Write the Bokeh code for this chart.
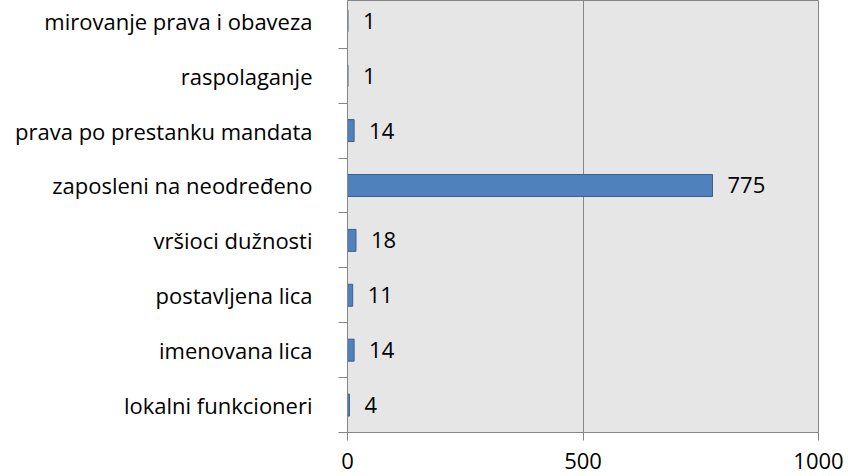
from bokeh.plotting import figure
from bokeh.models import ColumnDataSource, Range1d, FixedTicker
from bokeh.core.properties import value
from bokeh.embed import file_html
from bokeh.resources import INLINE

categories = ["lokalni funkcioneri", "imenovana lica", "postavljena lica", "vršioci dužnosti",
              "zaposleni na neodređeno", "prava po prestanku mandata", "raspolaganje",
              "mirovanje prava i obaveza"]
counts = [4, 14, 11, 18, 775, 14, 1, 1]
x_ticks = [0, 500, 1000]

FONT = "Open Sans"
FS = "22px"
GRAY = "#868686"

pos = list(range(len(categories)))
src = ColumnDataSource(dict(y=pos, v=counts, lab=[str(c) for c in counts]))

p = figure(width=848, height=476, output_backend="svg", toolbar_location=None,
           x_range=Range1d(0, 1000), y_range=Range1d(-0.5, 7.37),
           min_border_left=347, min_border_right=30, min_border_top=0, min_border_bottom=44)
p.background_fill_color = "#e6e6e6"
p.border_fill_color = "white"
p.outline_line_color = GRAY
p.outline_line_width = 1

p.hbar(y="y", right="v", left=0, height=0.4, source=src,
       fill_color="#4f81bd", line_color="#3a5f8b", line_width=1)
p.text(x="v", y="y", text="lab", source=src, x_offset=15,
       text_baseline="middle", text_align="left",
       text_font=value(FONT), text_font_size=FS, text_color="black")

# y axis
yax = p.yaxis[0]
yax.ticker = FixedTicker(ticks=pos, minor_ticks=[i - 0.5 for i in pos])
yax.major_label_overrides = {i: c for i, c in zip(pos, categories)}
yax.major_tick_out = 0
yax.major_tick_in = 0
yax.minor_tick_out = 9
yax.minor_tick_in = 0
yax.minor_tick_line_color = GRAY
yax.axis_line_color = GRAY
yax.major_label_standoff = 26
yax.major_label_text_font = FONT
yax.major_label_text_font_size = FS
yax.major_label_text_color = "black"

# x axis
xax = p.xaxis[0]
xax.ticker = FixedTicker(ticks=x_ticks)
xax.major_tick_out = 8
xax.major_tick_in = 0
xax.minor_tick_line_color = None
xax.major_tick_line_color = GRAY
xax.axis_line_color = GRAY
xax.major_label_standoff = 12
xax.major_label_text_font = FONT
xax.major_label_text_font_size = FS
xax.major_label_text_color = "black"

p.ygrid.grid_line_color = None
p.xgrid.ticker = FixedTicker(ticks=[500])
p.xgrid.grid_line_color = GRAY

open("out.html", "w").write(file_html(p, INLINE))
